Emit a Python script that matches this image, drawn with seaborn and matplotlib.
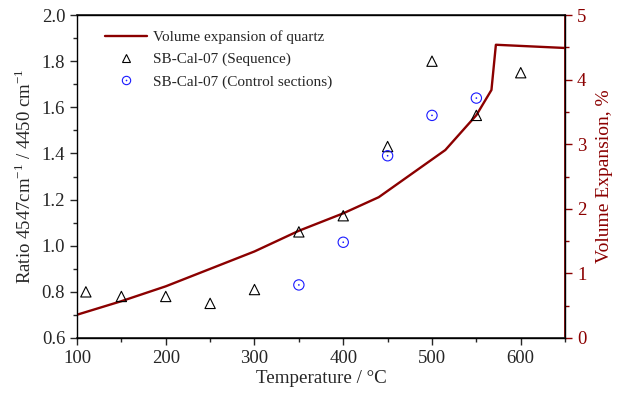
import numpy as np
import pandas as pd
import matplotlib
matplotlib.use("Agg")
import matplotlib.pyplot as plt
import seaborn as sns
from matplotlib.ticker import MultipleLocator
from matplotlib.legend_handler import HandlerTuple
from matplotlib.lines import Line2D

sns.set_theme(style="ticks")
plt.rcParams['font.family'] = ['Liberation Serif', 'DejaVu Serif']
plt.rcParams['mathtext.fontset'] = 'custom'
plt.rcParams['mathtext.rm'] = 'Liberation Serif'

# Data
seq_temp = [110, 150, 200, 250, 300, 350, 400, 450, 500, 550, 600]
seq_ratio = [0.80, 0.78, 0.78, 0.75, 0.81, 1.06, 1.13, 1.43, 1.80, 1.565, 1.75]
ctrl_temp = [350, 400, 450, 500, 550]
ctrl_ratio = [0.83, 1.015, 1.39, 1.565, 1.64]
qz_temp = [100, 150, 200, 250, 300, 350, 400, 440, 515, 550, 567, 572, 650]
qz_exp = [0.36, 0.57, 0.80, 1.07, 1.34, 1.66, 1.93, 2.18, 2.91, 3.45, 3.84, 4.54, 4.49]

red = "#8B0000"
blue = "#1a1aff"
fig = plt.figure(figsize=(6.21, 3.96), dpi=100)
ax = fig.add_axes([0.124, 0.1465, 0.786, 0.8155])
ax2 = ax.twinx()

df_seq = pd.DataFrame({"T": seq_temp, "R": seq_ratio})
df_ctrl = pd.DataFrame({"T": ctrl_temp, "R": ctrl_ratio})
df_qz = pd.DataFrame({"T": qz_temp, "E": qz_exp})

sns.lineplot(data=df_qz, x="T", y="E", ax=ax2, color=red, lw=1.7, legend=False)
sns.scatterplot(data=df_seq, x="T", y="R", ax=ax, marker="^", s=55,
                facecolor="none", edgecolor="black", linewidth=0.8, legend=False)
sns.scatterplot(data=df_ctrl, x="T", y="R", ax=ax, marker="o", s=55,
                facecolor="none", edgecolor=blue, linewidth=0.8, legend=False)
sns.scatterplot(data=df_ctrl, x="T", y="R", ax=ax, marker="o", s=1.5,
                color=blue, edgecolor="none", legend=False)

ax.set_xlim(100, 650)
ax.set_ylim(0.6, 2.0)
ax2.set_ylim(0, 5)
ax.xaxis.set_major_locator(MultipleLocator(100))
ax.xaxis.set_minor_locator(MultipleLocator(50))
ax.yaxis.set_major_locator(MultipleLocator(0.2))
ax.yaxis.set_minor_locator(MultipleLocator(0.1))
ax2.yaxis.set_major_locator(MultipleLocator(1))
ax2.yaxis.set_minor_locator(MultipleLocator(0.5))
ax.yaxis.set_major_formatter(matplotlib.ticker.FormatStrFormatter('%.1f'))

for a in (ax, ax2):
    a.tick_params(which='major', direction='out', length=5, width=1, labelsize=13.5)
    a.tick_params(which='minor', direction='out', length=3, width=1)
for s in ax.spines.values():
    s.set_linewidth(1.0)
    s.set_color('black')
ax2.spines['right'].set_color(red)
ax2.spines['right'].set_linewidth(1.3)
ax2.tick_params(axis='y', which='both', colors=red, labelcolor=red)
ax2.spines['left'].set_visible(False)
ax.tick_params(axis='x', which='both', top=False)
ax.tick_params(axis='y', which='both', right=False)

ax.set_xlabel("Temperature / °C", fontsize=13.7, labelpad=2)
ax.set_ylabel(r"Ratio 4547cm$^{\mathrm{-1}}$ / 4450 cm$^{\mathrm{-1}}$", fontsize=13.5, labelpad=5)
ax2.set_ylabel("Volume Expansion, %", fontsize=14, color=red, labelpad=7)

h_line = Line2D([], [], color=red, lw=1.7)
h_tri = Line2D([], [], marker='^', ls='none', mfc='none', mec='black', ms=6, mew=0.8)
h_circ = Line2D([], [], marker='o', ls='none', mfc='none', mec=blue, ms=6, mew=0.8)
h_dot = Line2D([], [], marker='o', ls='none', mfc=blue, mec='none', ms=1.2)
leg = ax.legend([h_line, h_tri, (h_circ, h_dot)],
                ["Volume expansion of quartz", "SB-Cal-07 (Sequence)", "SB-Cal-07 (Control sections)"],
                handler_map={tuple: HandlerTuple(ndivide=1, pad=0)},
                loc='upper left', bbox_to_anchor=(0.03, 0.995), frameon=False,
                fontsize=11, handlelength=2.7, labelspacing=0.55, handletextpad=0.4)
ax.set_zorder(ax2.get_zorder() + 1)
ax.patch.set_visible(False)

fig.savefig("out.png", dpi=100)
